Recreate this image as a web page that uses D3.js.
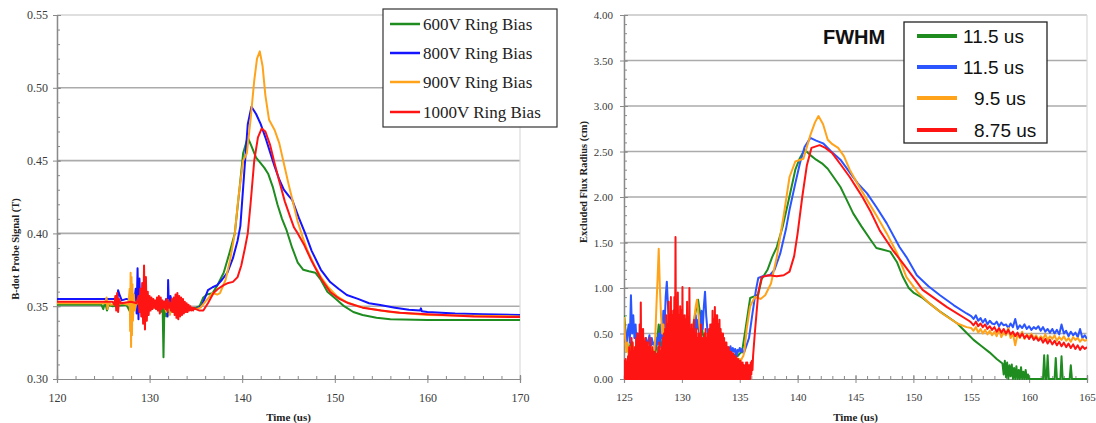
<!DOCTYPE html>
<html><head><meta charset="utf-8">
<script src="https://cdn.jsdelivr.net/npm/d3@7"></script>
<style>body{margin:0;background:#fff}svg{display:block}</style>
</head><body>
<svg id="c" width="1096" height="423"></svg>
<script>
// ---------------- DATA ----------------
// Left chart: B-dot probe signal (T) vs time (us)
const leftSeriesNames = ["600V Ring Bias","800V Ring Bias","900V Ring Bias","1000V Ring Bias"];
const leftXTicks = [120,130,140,150,160,170];
const leftYTicks = [0.30,0.35,0.40,0.45,0.50,0.55];

const lGreen = [[120,0.351],[124.8,0.351],[125.0,0.348],[125.2,0.353],[125.4,0.347],[125.6,0.351],[126,0.350],[127.5,0.351],[127.9,0.346],[128.0,0.358],[128.1,0.344],[128.2,0.352],[128.4,0.350],[129,0.351],[129.3,0.347],[129.5,0.355],[129.7,0.348],[130,0.351],[130.5,0.349],[130.9,0.352],[131.2,0.346],[131.4,0.352],[131.5,0.315],[131.6,0.350],[131.8,0.343],[132,0.352],[132.3,0.346],[132.6,0.351],[133,0.348],[133.5,0.350],[134,0.348],[135,0.349],[135.4,0.350],[135.8,0.356],[136.2,0.358],[136.8,0.359],[137.3,0.364],[138,0.373],[138.6,0.386],[139.2,0.400],[139.7,0.430],[140.1,0.455],[140.6,0.466],[141.0,0.460],[141.5,0.452],[141.9,0.449],[142.4,0.445],[142.8,0.441],[143.3,0.432],[143.8,0.420],[144.3,0.410],[144.8,0.402],[145.4,0.390],[146,0.380],[146.6,0.375],[147.2,0.374],[147.9,0.373],[148.5,0.368],[149.2,0.360],[150,0.3556],[151,0.350],[152,0.346],[153,0.344],[154.5,0.342],[156,0.341],[160,0.3405],[165,0.3405],[170,0.3405]];

const lBlue = [[120,0.355],[126.3,0.355],[126.5,0.352],[126.6,0.361],[126.8,0.357],[127,0.354],[127.5,0.355],[128.0,0.354],[128.3,0.350],[128.5,0.362],[128.6,0.345],[128.7,0.376],[128.8,0.341],[128.9,0.369],[129.0,0.348],[129.2,0.360],[129.4,0.350],[129.6,0.356],[129.8,0.351],[130.2,0.354],[130.5,0.351],[131,0.353],[131.5,0.350],[131.8,0.355],[131.95,0.343],[132.0,0.368],[132.1,0.346],[132.25,0.357],[132.5,0.350],[133,0.351],[133.5,0.349],[134,0.349],[135,0.348],[135.6,0.350],[136.0,0.356],[136.3,0.361],[136.8,0.363],[137.3,0.3645],[137.8,0.368],[138.4,0.373],[139.0,0.383],[139.5,0.395],[139.8,0.405],[140.2,0.440],[140.6,0.475],[141.0,0.487],[141.5,0.482],[142,0.475],[142.5,0.466],[143,0.456],[143.5,0.446],[144,0.437],[144.5,0.430],[145.0,0.426],[145.4,0.423],[146.1,0.411],[146.8,0.400],[147.5,0.388],[148.5,0.375],[149.5,0.3666],[150.4,0.362],[151.3,0.3577],[152.5,0.355],[153.7,0.352],[154.9,0.3508],[156.5,0.349],[158,0.3475],[159.2,0.347],[159.3,0.3485],[159.4,0.3465],[160,0.346],[163,0.345],[166,0.3445],[170,0.344]];

const lOrange = [[120,0.352],[125.2,0.352],[125.35,0.356],[125.45,0.348],[125.6,0.353],[125.8,0.351],[127,0.352],[127.7,0.351],[127.85,0.362],[127.9,0.333],[127.95,0.373],[128.0,0.322],[128.05,0.370],[128.1,0.330],[128.15,0.365],[128.2,0.340],[128.3,0.358],[128.4,0.347],[128.6,0.353],[129,0.350],[129.5,0.352],[130,0.349],[130.5,0.351],[131,0.348],[131.5,0.352],[131.8,0.346],[132,0.354],[132.2,0.344],[132.4,0.353],[132.6,0.347],[133,0.350],[133.5,0.348],[134,0.349],[135,0.348],[135.5,0.349],[136.0,0.353],[136.4,0.356],[136.8,0.359],[137.3,0.358],[137.6,0.359],[138.2,0.368],[138.7,0.382],[139.2,0.400],[139.6,0.425],[140.1,0.450],[140.5,0.455],[140.9,0.478],[141.3,0.505],[141.6,0.520],[141.9,0.525],[142.2,0.515],[142.5,0.495],[142.9,0.478],[143.5,0.471],[144,0.462],[144.5,0.448],[145,0.434],[145.5,0.421],[146,0.408],[146.5,0.398],[147,0.389],[147.8,0.378],[148.5,0.370],[149.3,0.363],[150.2,0.357],[151.2,0.353],[152.5,0.350],[154,0.348],[156,0.346],[158,0.345],[160,0.344],[165,0.3435],[170,0.343]];

const lRedStart = [[120,0.353],[126.0,0.353],[126.2,0.351],[126.3,0.357],[126.4,0.347],[126.5,0.359],[126.6,0.346],[126.7,0.355],[126.9,0.352],[128,0.353],[128.6,0.352],[128.8,0.357],[128.9,0.346],[129.0,0.362],[129.1,0.343],[129.2,0.366],[129.3,0.338],[129.4,0.378],[129.5,0.334],[129.6,0.370],[129.7,0.340],[129.8,0.360],[129.9,0.344]];
// noise samples from 130.0 us every 0.1 us
const lRedNoise = [0.357,0.347,0.356,0.348,0.355,0.349,0.354,0.348,0.356,0.347,
  0.357,0.345,0.356,0.348,0.354,0.349,0.353,0.348,0.355,0.347,
  0.354,0.349,0.352,0.347,0.355,0.346,0.356,0.344,0.358,0.342,
  0.359,0.341,0.357,0.343,0.356,0.344,0.355,0.345,0.353,0.346,
  0.352,0.346,0.351,0.347,0.350,0.347,0.349,0.347,0.349,0.348,0.348];
const lRedEnd = [[135.4,0.347],[135.8,0.347],[136.3,0.352],[136.9,0.359],[137.4,0.362],[138,0.3645],[138.5,0.366],[139,0.3667],[139.5,0.370],[139.9,0.378],[140.3,0.390],[140.6,0.400],[140.9,0.420],[141.3,0.450],[141.7,0.466],[142.1,0.472],[142.5,0.470],[143,0.461],[143.5,0.448],[144,0.436],[144.6,0.422],[145.2,0.411],[145.6,0.404],[146,0.400],[146.7,0.392],[147.5,0.381],[148.5,0.369],[149.5,0.3598],[150.5,0.355],[151.5,0.352],[153,0.349],[155,0.347],[157,0.3455],[160,0.3445],[165,0.343],[170,0.3425]];

// Right chart: excluded flux radius (cm) vs time (us)
const rightLegendLabels = ["11.5 us","11.5 us","9.5 us","8.75 us"];
const rightXTicks = [125,130,135,140,145,150,155,160,165];
const rightYTicks = [0,0.5,1,1.5,2,2.5,3,3.5,4];

// green: noise from 125.0 every 0.2 us
const rGreenNoise = [0.70,0.45,0.30,0.40,0.25,0.35,0.30,0.25,0.30,0.20,
  0.30,0.25,0.30,0.20,0.35,0.60,0.40,0.30,0.35,0.30,
  0.40,0.30,0.35,0.30,0.40,0.35,0.30,0.40,0.30,0.50,
  0.60,0.75,0.87,0.70,0.50,0.40,0.35,0.30,0.35,0.30,
  0.30,0.28,0.30,0.25,0.28,0.25,0.28,0.25,0.27,0.25,0.28,0.30];
const rGreenMain = [[135.5,0.55],[135.9,0.89],[136.3,0.91],[136.6,0.93],[136.9,1.10],[137.4,1.20],[137.8,1.34],[138.2,1.45],[138.7,1.67],[139.2,1.95],[139.8,2.30],[140.2,2.43],[140.6,2.52],[141.1,2.46],[141.6,2.41],[142.1,2.37],[142.6,2.31],[143.1,2.22],[143.7,2.11],[144.2,1.98],[144.8,1.82],[145.5,1.68],[146.3,1.53],[146.8,1.44],[147.4,1.42],[148,1.40],[148.6,1.28],[149.1,1.12],[149.6,1.00],[150,0.95],[150.8,0.89],[151.5,0.82],[152.3,0.74],[153,0.68],[153.8,0.61],[154.5,0.52],[155.2,0.43],[155.9,0.36],[156.6,0.29],[157.2,0.22],[157.7,0.17]];
// green tail noise from 157.8 every 0.1 us
const rGreenTailNoise = [0.05,0.20,0.02,0.18,0,0.15,0.03,0.16,0,0.12,0,0.14,0,0.10,0,0.13,0,0.08,0,0.10,0,0.05,0];
const rGreenEnd = [[161.2,0],[161.3,0.26],[161.4,0],[161.5,0],[161.6,0.26],[161.7,0],[162.2,0],[162.3,0.23],[162.4,0],[162.7,0],[162.8,0.25],[162.9,0],[163.5,0],[163.6,0.15],[163.7,0],[165,0]];

// blue: noise from 125.0 every 0.1 us
const rBlueNoise = [0.40,0.55,0.35,0.50,0.60,0.40,0.92,0.50,0.70,0.45,
  0.60,0.35,0.50,0.30,0.45,0.35,0.50,0.28,0.40,0.45,
  0.35,0.42,0.48,0.30,0.45,0.38,0.40,0.33,0.45,0.38,
  0.50,0.35,0.60,0.45,0.75,0.55,0.90,1.07,0.80,0.60,
  0.70,0.50,0.65,0.45,0.55,0.40,0.50,0.35,0.45,0.40,
  0.55,0.40,0.50,0.35,0.60,0.45,0.50,0.40,0.55,0.45,
  0.60,0.50,0.70,0.55,0.65,0.50,0.60,0.75,0.55,0.80,
  0.96,0.70,0.55,0.45,0.50,0.40,0.45,0.38,0.42,0.35,
  0.40,0.33,0.38,0.30,0.36,0.22,0.35,0.30,0.34,0.31,
  0.35,0.30,0.36,0.29,0.34,0.30,0.33,0.22,0.32,0.30,
  0.34,0.30,0.33,0.29,0.30];
const rBlueMain = [[135.8,0.45],[136.1,0.72],[136.4,0.98],[136.6,1.11],[137.0,1.13],[137.6,1.14],[138.0,1.20],[138.5,1.38],[139.0,1.65],[139.3,1.86],[139.8,2.15],[140.2,2.37],[140.6,2.55],[141.1,2.65],[141.6,2.62],[142.2,2.59],[142.9,2.50],[143.7,2.41],[144.5,2.27],[145.2,2.15],[146,2.04],[146.8,1.89],[147.7,1.71],[148.8,1.45],[149.4,1.34],[150.3,1.14],[151.3,1.02],[152.3,0.92],[153.5,0.81],[154.6,0.72]];
// blue tail noise from 155.0 every 0.2 us
const rBlueTailNoise = [0.69,0.66,0.70,0.64,0.67,0.62,0.66,0.60,0.64,0.61,
  0.60,0.63,0.58,0.62,0.59,0.60,0.56,0.61,0.57,0.66,
  0.55,0.59,0.56,0.60,0.55,0.58,0.54,0.57,0.55,0.58,
  0.53,0.57,0.52,0.55,0.51,0.55,0.50,0.54,0.49,0.60,
  0.50,0.53,0.47,0.52,0.48,0.51,0.46,0.55,0.45,0.48,0.44];

// orange: noise from 125.0 every 0.1 us
const rOrangeNoise = [0.68,0.45,0.30,0.40,0.25,0.35,0.22,0.40,0.28,0.35,
  0.25,0.30,0.20,0.35,0.22,0.30,0.20,0.28,0.22,0.30,
  0.20,0.30,0.25,0.22,0.35,0.28,0.30,0.45,0.80,1.10,
  1.43,1.00,0.70,0.50,0.60,0.40,0.45,0.35,0.40,0.30,
  0.35,0.30,0.40,0.32,0.38,0.30,0.42,0.35,0.40,0.30,
  0.38,0.32,0.40,0.30,0.35,0.30,0.40,0.35,0.45,0.50,
  0.60,0.70,0.80,0.87,0.75,0.60,0.50,0.40,0.35,0.30,
  0.35,0.28,0.32,0.25,0.30,0.24,0.28,0.22,0.27,0.24,
  0.26,0.22,0.25,0.21,0.24,0.22,0.25,0.20,0.24,0.22,
  0.24,0.21,0.23,0.20,0.23,0.21,0.22,0.20,0.23,0.21,
  0.22,0.20,0.23,0.25,0.30];
const rOrangeMain = [[135.6,0.55],[135.9,0.80],[136.3,0.90],[136.8,0.88],[137.2,0.92],[137.7,1.05],[138.2,1.34],[138.8,1.80],[139.3,2.22],[139.8,2.39],[140.5,2.42],[141.1,2.68],[141.5,2.82],[141.8,2.89],[142.2,2.80],[142.6,2.63],[143.0,2.58],[143.5,2.54],[144.0,2.45],[144.5,2.30],[145.2,2.14],[146,1.97],[146.8,1.80],[147.7,1.60],[148.6,1.38],[149.4,1.12],[150.4,0.95],[151.4,0.83],[152.5,0.72],[153.8,0.61],[154.6,0.57]];
// orange tail noise from 155.0 every 0.2 us
const rOrangeTailNoise = [0.56,0.53,0.57,0.51,0.55,0.50,0.54,0.49,0.53,0.48,
  0.52,0.47,0.55,0.46,0.51,0.48,0.56,0.45,0.50,0.37,
  0.49,0.45,0.52,0.44,0.49,0.46,0.50,0.44,0.48,0.43,
  0.47,0.44,0.49,0.43,0.47,0.44,0.48,0.42,0.46,0.43,
  0.47,0.42,0.45,0.41,0.46,0.43,0.45,0.41,0.44,0.42,0.43];

// red: noise from 125.00 every 0.05 us (signal rapidly touching zero)
const rRedNoise = [
  0,0.20, 0,0.22, 0,0.18, 0,0.25, 0,0.35, 0,0.30, 0,0.45, 0,0.40, 0,0.30, 0,0.35,
  0,0.45, 0,0.50, 0,0.40, 0,0.60, 0,0.84, 0,0.55, 0,0.55, 0,0.40, 0,0.45, 0,0.40,
  0,0.40, 0,0.35, 0,0.45, 0,0.30, 0,0.35, 0,0.30, 0,0.30, 0,0.25, 0,0.28, 0,0.35,
  0,0.40, 0,0.30, 0,0.35, 0,0.45, 0,0.50, 0,0.55, 0,0.70, 0,0.60, 0,0.85, 0,0.70,
  0,0.90, 0,0.70, 0,0.75, 0,0.90, 0,1.56, 0,0.80, 0,0.95, 0,0.70, 0,0.80, 0,0.75,
  0,1.01, 0,0.70, 0,0.70, 0,0.65, 0,0.85, 0,0.60, 0,1.00, 0,0.55, 0,0.60, 0,0.55,
  0,0.65, 0,0.50, 0,0.55, 0,0.45, 0,0.50, 0,0.50, 0,0.60, 0,0.45, 0,0.45, 0,0.50,
  0,0.55, 0,0.45, 0,0.50, 0,0.55, 0,0.60, 0,0.60, 0,0.75, 0,0.65, 0,0.79, 0,0.70,
  0,0.70, 0,0.60, 0,0.65, 0,0.55, 0,0.50, 0,0.50, 0,0.45, 0,0.40, 0,0.40, 0,0.35,
  0,0.35, 0,0.30, 0,0.30, 0,0.28, 0,0.28, 0,0.25, 0,0.25, 0,0.22, 0,0.22, 0,0.20,
  0,0.20, 0,0.18, 0,0.18, 0,0.15, 0,0.15, 0,0.18, 0,0.18, 0,0.15, 0,0.15, 0,0.18,
  0.05,0.20, 0.10,0.25];
const rRedMain = [[136.3,0.50],[136.6,0.95],[136.9,1.12],[137.5,1.14],[138.2,1.13],[138.8,1.14],[139.3,1.18],[139.7,1.35],[140.0,1.60],[140.4,2.00],[140.8,2.35],[141.2,2.54],[141.9,2.57],[142.4,2.54],[143,2.48],[143.7,2.36],[144.5,2.22],[145.1,2.10],[145.6,2.00],[146.3,1.84],[147.1,1.63],[148.2,1.42],[149.1,1.27],[150.8,0.98],[152.9,0.79],[154.8,0.64]];
// red tail noise from 155.0 every 0.2 us
const rRedTailNoise = [0.62,0.59,0.63,0.58,0.61,0.57,0.60,0.55,0.58,0.54,
  0.57,0.52,0.56,0.51,0.55,0.50,0.54,0.49,0.52,0.47,
  0.51,0.46,0.50,0.45,0.48,0.44,0.48,0.43,0.46,0.42,
  0.45,0.40,0.44,0.39,0.43,0.38,0.42,0.37,0.41,0.36,
  0.40,0.35,0.39,0.34,0.38,0.33,0.37,0.32,0.36,0.33,0.35];

// ---------------- HELPERS ----------------
function noise(t0, dt, v){ return v.map((d,i)=>[+(t0+i*dt).toFixed(3), d]); }
function assemble(){ return [].concat(...arguments); }

const leftData = [
  assemble(lGreen),
  assemble(lBlue),
  assemble(lOrange),
  assemble(lRedStart, noise(130.0,0.1,lRedNoise), lRedEnd)
];
const rightData = [
  assemble(noise(125,0.2,rGreenNoise), rGreenMain, noise(157.8,0.1,rGreenTailNoise), rGreenEnd),
  assemble(noise(125,0.1,rBlueNoise), rBlueMain, noise(155,0.2,rBlueTailNoise)),
  assemble(noise(125,0.1,rOrangeNoise), rOrangeMain, noise(155,0.2,rOrangeTailNoise)),
  assemble(noise(125,0.05,rRedNoise), rRedMain, noise(155,0.2,rRedTailNoise))
];

const leftColors = ["#1e8c1e","#1414ff","#ffa31a","#ff1414"];
const rightColors = ["#1e8c1e","#2b55ff","#ffa31a","#ff1414"];

const svg = d3.select("#c");

function chart(cfg){
  const g = svg.append("g");
  const x = d3.scaleLinear().domain(cfg.xDomain).range([cfg.x0, cfg.x1]);
  const y = d3.scaleLinear().domain(cfg.yDomain).range([cfg.y1, cfg.y0]);

  // gridlines
  g.append("g").selectAll("line").data(cfg.yTicks.slice(1)).join("line")
    .attr("x1", cfg.x0).attr("x2", cfg.x1)
    .attr("y1", d=>y(d)).attr("y2", d=>y(d))
    .attr("stroke", (d,i)=> i===cfg.yTicks.length-2 ? cfg.topColor : "#ababab")
    .attr("stroke-width", 1.6);
  // right border
  g.append("line").attr("x1", cfg.x1).attr("x2", cfg.x1).attr("y1", cfg.y0).attr("y2", cfg.y1)
    .attr("stroke", "#dadada").attr("stroke-width", 1.2);

  // minor ticks
  const yMinorVals = d3.range(0, Math.round((cfg.yDomain[1]-cfg.yDomain[0])/cfg.yMinor)+1).map(i=>cfg.yDomain[0]+i*cfg.yMinor);
  const xMinorVals = d3.range(0, Math.round((cfg.xDomain[1]-cfg.xDomain[0])/cfg.xMinor)+1).map(i=>cfg.xDomain[0]+i*cfg.xMinor);
  const axMinY = g.append("g").attr("transform", `translate(${cfg.x0},0)`)
    .call(d3.axisLeft(y).tickValues(yMinorVals).tickSize(-3).tickFormat(""));
  const axMinX = g.append("g").attr("transform", `translate(0,${cfg.y1})`)
    .call(d3.axisBottom(x).tickValues(xMinorVals).tickSize(-3).tickFormat(""));
  const axInY = g.append("g").attr("transform", `translate(${cfg.x0},0)`)
    .call(d3.axisLeft(y).tickValues(cfg.yTicks).tickSize(-4).tickFormat(""));
  const axInX = g.append("g").attr("transform", `translate(0,${cfg.y1})`)
    .call(d3.axisBottom(x).tickValues(cfg.xTicks).tickSize(-4).tickFormat(""));
  const axY = g.append("g").attr("transform", `translate(${cfg.x0},0)`)
    .call(d3.axisLeft(y).tickValues(cfg.yTicks).tickSize(4).tickPadding(cfg.yPad).tickFormat(d3.format(".2f")));
  const axX = g.append("g").attr("transform", `translate(0,${cfg.y1})`)
    .call(d3.axisBottom(x).tickValues(cfg.xTicks).tickSize(4).tickPadding(cfg.xPad).tickFormat(d3.format("d")));
  [axMinY,axMinX,axInY,axInX,axY,axX].forEach(a=>{
    a.selectAll("path").attr("stroke","#8a8a8a").attr("stroke-width",1.2);
    a.selectAll("line").attr("stroke","#8a8a8a").attr("stroke-width",1);
    a.selectAll("text").attr("fill","#3a3a3a").attr("font-family","'Liberation Serif', serif").attr("font-size", cfg.tickFont);
  });

  // clip
  const id = "clip"+cfg.x0;
  svg.append("defs").append("clipPath").attr("id", id).append("rect")
    .attr("x", cfg.x0).attr("y", cfg.y0).attr("width", cfg.x1-cfg.x0).attr("height", cfg.y1-cfg.y0+1.5);

  const line = d3.line().x(d=>x(d[0])).y(d=>y(d[1]));
  g.append("g").attr("clip-path", `url(#${id})`).selectAll("path").data(cfg.data).join("path")
    .attr("d", line).attr("fill","none")
    .attr("stroke", (d,i)=>cfg.colors[i]).attr("stroke-width", cfg.lw)
    .attr("stroke-linejoin","round");

  // axis titles
  g.append("text").attr("x", (cfg.x0+cfg.x1)/2).attr("y", 421).attr("text-anchor","middle")
    .attr("font-family","'Liberation Serif', serif").attr("font-weight","bold").attr("font-size", 11)
    .attr("fill","#222").text("Time (us)");
  g.append("text").attr("transform", `translate(${cfg.yTitleX},${cfg.yTitleY}) rotate(-90)`)
    .attr("text-anchor","middle").attr("font-family","'Liberation Serif', serif").attr("font-weight","bold")
    .attr("font-size", 10.5).attr("fill","#222").text(cfg.yTitle);
  return g;
}

chart({x0:57,x1:520,y0:15,y1:379,xDomain:[120,170],yDomain:[0.30,0.55],
  xTicks:leftXTicks,yTicks:leftYTicks,xMinor:2,yMinor:0.01,yPad:5,xPad:10,tickFont:12,
  topColor:"#d4d4d4",data:leftData,colors:leftColors,lw:2,
  yTitle:"B-dot Probe Signal (T)",yTitleX:19,yTitleY:249});

chart({x0:624,x1:1087,y0:15,y1:379,xDomain:[125,165],yDomain:[0,4],
  xTicks:rightXTicks,yTicks:rightYTicks,xMinor:1,yMinor:0.1,yPad:7,xPad:10,tickFont:11,
  topColor:"#c4c4c4",data:rightData,colors:rightColors,lw:2,
  yTitle:"Excluded Flux Radius (cm)",yTitleX:587,yTitleY:182});

// Left legend
const lg = svg.append("g");
lg.append("rect").attr("x",383).attr("y",9).attr("width",174).attr("height",118)
  .attr("fill","#fff").attr("stroke","#333").attr("stroke-width",1.2);
const lRows = [24,53,82,112];
leftSeriesNames.forEach((n,i)=>{
  lg.append("line").attr("x1",390).attr("x2",420).attr("y1",lRows[i]).attr("y2",lRows[i])
    .attr("stroke",leftColors[i]).attr("stroke-width",2.5);
  lg.append("text").attr("x",423).attr("y",lRows[i]+6).attr("font-family","'Liberation Serif', serif")
    .attr("font-size",17).attr("fill","#222").text(n);
});

// Right legend
const rg = svg.append("g");
rg.append("text").attr("x",823).attr("y",44).attr("font-family","'Liberation Sans', Arial, sans-serif")
  .attr("font-weight","bold").attr("font-size",20).attr("fill","#111").text("FWHM");
rg.append("rect").attr("x",904).attr("y",22).attr("width",143).attr("height",121)
  .attr("fill","#fff").attr("stroke","#222").attr("stroke-width",1.3);
const rRows = [36,67,98,130];
const rTextX = [963,963,974,974];
rightLegendLabels.forEach((n,i)=>{
  rg.append("line").attr("x1",917).attr("x2",957).attr("y1",rRows[i]).attr("y2",rRows[i])
    .attr("stroke",rightColors[i]).attr("stroke-width",4);
  rg.append("text").attr("x",rTextX[i]).attr("y",rRows[i]+7).attr("font-family","'Liberation Sans', Arial, sans-serif")
    .attr("font-size",19).attr("fill","#111").text(n);
});
</script>
</body></html>
